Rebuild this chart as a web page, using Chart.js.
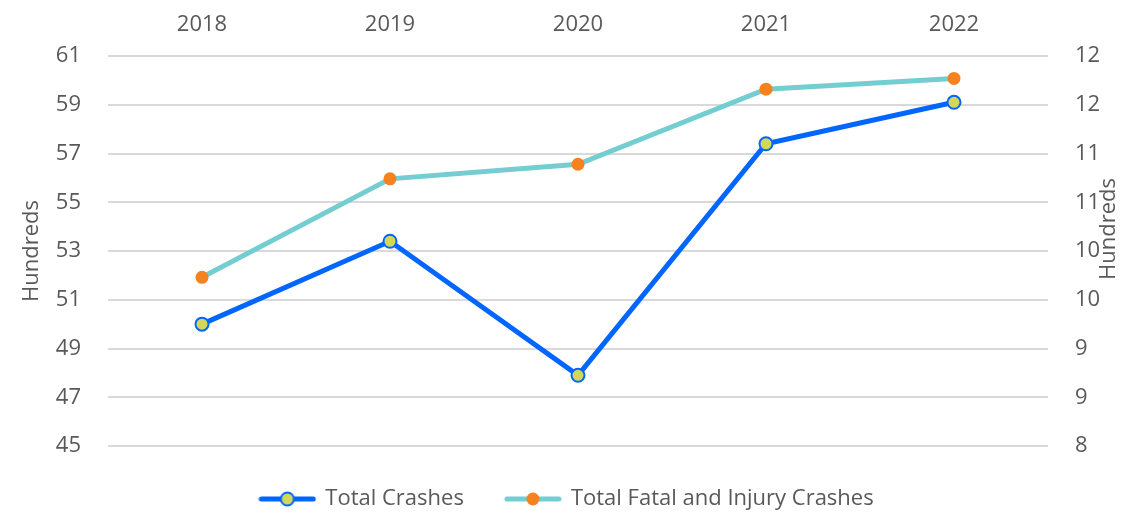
<!DOCTYPE html>
<html>
<head>
<meta charset="utf-8">
<script src="https://cdn.jsdelivr.net/npm/chart.js@4"></script>
<style>
  html, body { margin: 0; padding: 0; background: #ffffff; }
  #wrap { width: 1134px; height: 514px; }
</style>
</head>
<body>
<div id="wrap"><canvas id="chart" width="1134" height="514"></canvas></div>
<script>
// values in hundreds
const years = ['2018', '2019', '2020', '2021', '2022'];
const totalCrashes = [50.0, 53.4, 47.9, 57.4, 59.1];
const fatalInjuryCrashes = [9.73, 10.74, 10.89, 11.66, 11.77];

const textColor = '#595959';
const fontFamily = "'Open Sans', 'Noto Sans', sans-serif";
const fontSize = 22;

function legendIcon(lineColor, fill, border) {
    let c = document.createElement('canvas');
    c.width = 58;
    c.height = 16;
    let ctx = c.getContext('2d');
    ctx.strokeStyle = lineColor;
    ctx.lineWidth = 5;
    ctx.lineCap = 'round';
    ctx.beginPath();
    ctx.moveTo(3, 8);
    ctx.lineTo(55, 8);
    ctx.stroke();
    ctx.beginPath();
    ctx.arc(29, 8, 6.5, 0, Math.PI * 2);
    ctx.fillStyle = fill;
    ctx.fill();
    if (border) {
        ctx.lineWidth = 2;
        ctx.strokeStyle = border;
        ctx.stroke();
    }
    return c;
}

const icons = [
    legendIcon('#0066ff', '#d4d85a', '#0066ff'),
    legendIcon('#74ced1', '#f5821f', null)
];

// right axis title reads bottom to top, like the left one
const rightTitle = {
    id: 'rightTitle',
    afterDraw(chart) {
        let s = chart.scales.y1;
        let ctx = chart.ctx;
        ctx.save();
        ctx.translate(s.left + 61, (s.top + s.bottom) / 2 - 22);
        ctx.rotate(-Math.PI / 2);
        ctx.fillStyle = textColor;
        ctx.font = fontSize + 'px ' + fontFamily;
        ctx.textAlign = 'center';
        ctx.textBaseline = 'middle';
        ctx.fillText('Hundreds', 0, 0);
        ctx.restore();
    }
};

new Chart(document.getElementById('chart'), {
    type: 'line',
    data: {
        labels: years,
        datasets: [
            {
                label: 'Total Crashes',
                data: totalCrashes,
                yAxisID: 'y',
                borderColor: '#0066ff',
                borderWidth: 5,
                pointRadius: 6.5,
                pointHoverRadius: 6.5,
                pointBackgroundColor: '#d4d85a',
                pointBorderColor: '#0066ff',
                pointBorderWidth: 2,
                tension: 0
            },
            {
                label: 'Total Fatal and Injury Crashes',
                data: fatalInjuryCrashes,
                yAxisID: 'y1',
                borderColor: '#74ced1',
                borderWidth: 5,
                pointRadius: 6.5,
                pointHoverRadius: 6.5,
                pointBackgroundColor: '#f5821f',
                pointBorderColor: '#f5821f',
                pointBorderWidth: 0,
                tension: 0
            }
        ]
    },
    options: {
        responsive: false,
        animation: false,
        layout: { padding: { top: 0, bottom: -6, left: 0, right: 0 } },
        plugins: {
            tooltip: { enabled: false },
            legend: {
                position: 'bottom',
                labels: {
                    color: textColor,
                    font: { family: fontFamily, size: fontSize },
                    usePointStyle: true,
                    pointStyleWidth: 54,
                    padding: 42,
                    generateLabels(chart) {
                        return chart.data.datasets.map(function (ds, i) {
                            return {
                                text: ds.label,
                                pointStyle: icons[i],
                                fillStyle: 'transparent',
                                strokeStyle: 'transparent',
                                lineWidth: 0,
                                fontColor: textColor,
                                datasetIndex: i
                            };
                        });
                    }
                }
            }
        },
        scales: {
            x: {
                position: 'top',
                offset: true,
                grid: { display: false, drawTicks: false },
                border: { display: false },
                ticks: {
                    color: textColor,
                    font: { family: fontFamily, size: fontSize },
                    padding: 18
                },
                afterFit(scale) { scale.height = 56; }
            },
            y: {
                position: 'left',
                min: 45,
                max: 61,
                grid: { color: '#d9d9d9', lineWidth: 2, drawTicks: false },
                border: { display: false },
                ticks: {
                    stepSize: 2,
                    color: textColor,
                    font: { family: fontFamily, size: fontSize },
                    padding: 27
                },
                title: {
                    display: true,
                    text: 'Hundreds',
                    color: textColor,
                    font: { family: fontFamily, size: fontSize },
                    padding: { top: 19, bottom: 0 }
                },
                afterFit(scale) { scale.width = 108; }
            },
            y1: {
                position: 'right',
                min: 8,
                max: 12,
                grid: { display: false, drawTicks: false },
                border: { display: false },
                ticks: {
                    stepSize: 0.5,
                    color: textColor,
                    font: { family: fontFamily, size: fontSize },
                    padding: 27,
                    callback: function (value) {
                        return Math.round(value);
                    }
                },
                afterFit(scale) { scale.width = 86; }
            }
        }
    },
    plugins: [rightTitle]
});
</script>
</body>
</html>
